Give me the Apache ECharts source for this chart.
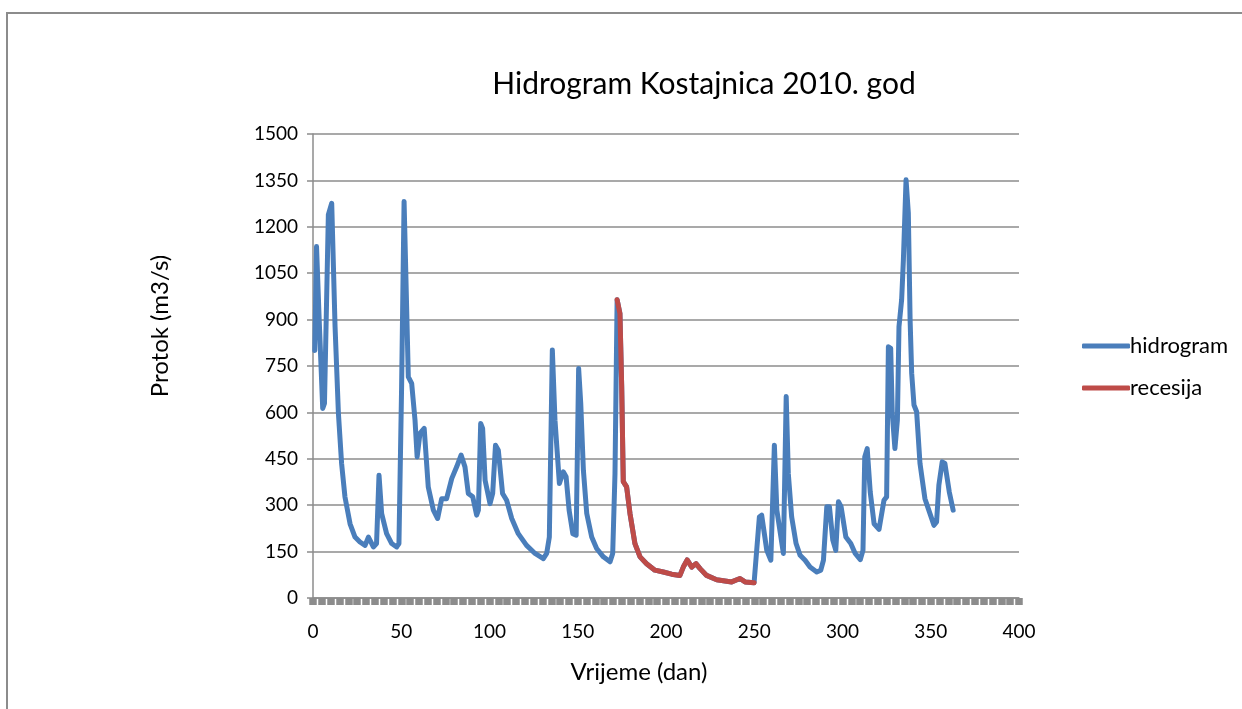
<!DOCTYPE html>
<html>
<head>
<meta charset="utf-8">
<title>Hidrogram Kostajnica 2010</title>
<script src="https://cdn.jsdelivr.net/npm/echarts@6/dist/echarts.min.js"></script>
<style>
  html, body { margin: 0; padding: 0; background: #fff; }
  #chart { width: 1242px; height: 709px; }
</style>
</head>
<body>
<div id="chart"></div>
<script>
// podaci ocitani sa grafa: [dan, protok m3/s]
var hidrogramA = [
    [1, 800], [2, 1136], [3.5, 900], [5.5, 613], [6.5, 629], [8.7, 1239], [10.6, 1276],
    [12.5, 877], [14.4, 597], [16.2, 435], [18.1, 327], [21, 240], [23.8, 197],
    [26.6, 181], [29.5, 170], [31.4, 197], [34.2, 165], [36, 176], [37.4, 397],
    [38.9, 273], [41.7, 208], [44.6, 176], [47.4, 165], [48.7, 176], [50.2, 683],
    [51.6, 1282], [52.7, 1276], [54, 715], [55.9, 694], [57.8, 575], [59, 456],
    [60.6, 532], [63, 548], [65.3, 359], [68.2, 284], [70.6, 257], [72.9, 321],
    [75.7, 321], [78.6, 386], [81.4, 424], [83.9, 462], [86.1, 424], [88, 338],
    [90.5, 327], [92.7, 268], [93.7, 284], [95, 564], [96.1, 548], [97.5, 381],
    [100.3, 305], [101.8, 338], [103.4, 494], [105, 478], [107.4, 338], [109.7, 316],
    [112.6, 257], [116.3, 208], [121, 170], [125.8, 144], [130.5, 127], [132.4, 144],
    [133.9, 197], [135.6, 802], [137.1, 575], [139.6, 370], [141.8, 408], [143.4, 392],
    [145.1, 284], [147.2, 208], [149.1, 203], [150.5, 742], [151.7, 629], [153.2, 413],
    [155.1, 273], [157.9, 197], [160.7, 160], [164.5, 133], [168.3, 117], [169.8, 144],
    [171.1, 402]
];

var recesija = [
    [172.3, 964], [173.9, 920], [174.9, 683], [175.8, 376], [177.7, 359], [179.6, 273],
    [182.4, 176], [185.3, 133], [189, 111], [193.7, 90], [198.5, 84], [203.2, 77],
    [207.9, 73], [209.8, 100], [212, 123], [214.6, 100], [217, 111], [219.3, 95],
    [223, 73], [228.7, 59], [237.2, 52], [241.9, 63], [244.8, 52], [249.9, 49]
];

var hidrogramB = [
    [252.9, 262], [254.2, 268], [257.1, 154], [259.4, 122], [261.4, 494], [262.8, 284],
    [266.5, 144], [268.1, 651], [269.3, 402], [271.2, 262], [273.7, 176], [276, 138],
    [278.8, 122], [281.6, 100], [285.4, 84], [287.7, 90], [289.2, 122], [291.1, 295],
    [292.6, 295], [294.5, 187], [296.2, 154], [297.7, 311], [299.2, 295], [301.9, 197],
    [304.7, 176], [307.2, 144], [310.1, 124], [311.6, 154], [312.6, 456], [314, 483],
    [315.7, 343], [317.9, 240], [320.7, 222], [323.5, 316], [325, 327], [326, 812],
    [327.3, 807], [328.2, 597], [329.7, 483], [331.1, 575], [332, 877], [333.5, 964],
    [334.5, 1093], [336, 1352], [337.3, 1244], [338.3, 899], [339.2, 726], [340.5, 624],
    [342, 602], [343.9, 435], [346.7, 321], [348.6, 289], [351.8, 235], [353.3, 246],
    [354.6, 365], [356.5, 440], [358, 435], [360.5, 343], [362.7, 284]
];

var hidrogram = hidrogramA.concat(recesija, hidrogramB);

var font = 'Lato, "Open Sans", sans-serif';

var myChart = echarts.init(document.getElementById('chart'));
var option = {
    backgroundColor: '#fff',
    animation: false,
    textStyle: { fontFamily: font, color: '#000' },
    graphic: [{
        type: 'rect',
        shape: { x: 7, y: 13, width: 1300, height: 800 },
        style: { fill: 'none', stroke: '#8c8c8c', lineWidth: 2 },
        silent: true
    }],
    title: {
        text: 'Hidrogram Kostajnica 2010. god',
        left: 699,
        top: 64,
        textAlign: 'center',
        textStyle: { fontFamily: font, fontSize: 30, fontWeight: 'normal', color: '#000' }
    },
    legend: {
        orient: 'vertical',
        left: 1077,
        top: 330,
        itemWidth: 48,
        itemHeight: 5,
        itemGap: 20,
        icon: 'roundRect',
        textStyle: { fontFamily: font, fontSize: 22, color: '#000', padding: [0, 0, 0, -5] },
        data: ['hidrogram', 'recesija']
    },
    grid: { left: 313, right: 223, top: 134, bottom: 111 },
    xAxis: {
        type: 'value',
        min: 0,
        max: 400,
        interval: 50,
        name: 'Vrijeme (dan)',
        nameLocation: 'middle',
        nameGap: 62,
        nameTextStyle: { fontFamily: font, fontSize: 24, color: '#000', padding: [0, 54, 0, 0] },
        axisLine: { show: true, lineStyle: { color: '#8c8c8c', width: 1.5 } },
        axisTick: { show: true, length: 7, lineStyle: { color: '#8c8c8c', width: 7.5 } },
        minorTick: { show: true, splitNumber: 10, length: 7, lineStyle: { color: '#8c8c8c', width: 7.5 } },
        axisLabel: { fontFamily: font, fontSize: 19, color: '#000', margin: 24 },
        splitLine: { show: false }
    },
    yAxis: {
        type: 'value',
        min: 0,
        max: 1500,
        interval: 150,
        name: 'Protok (m3/s)',
        nameLocation: 'middle',
        nameGap: 141,
        nameTextStyle: { fontFamily: font, fontSize: 24, color: '#000', padding: [0, 0, 0, 80] },
        axisLine: { show: true, lineStyle: { color: '#8c8c8c', width: 1.5 } },
        axisTick: { show: true, length: 6, lineStyle: { color: '#8c8c8c', width: 1.5 } },
        axisLabel: {
            fontFamily: font, fontSize: 19, color: '#000', margin: 15,
            formatter: function (v) { return String(v); }
        },
        splitLine: { show: true, lineStyle: { color: '#8c8c8c', width: 1.5 } }
    },
    series: [
        {
            name: 'hidrogram',
            type: 'line',
            data: hidrogram,
            showSymbol: false,
            symbol: 'none',
            color: '#4a7ebb',
            lineStyle: { color: '#4a7ebb', width: 5, cap: 'round', join: 'round' },
            z: 2
        },
        {
            name: 'recesija',
            type: 'line',
            data: recesija,
            showSymbol: false,
            symbol: 'none',
            color: '#be4b48',
            lineStyle: { color: '#be4b48', width: 5, cap: 'round', join: 'round' },
            z: 3
        }
    ]
};
myChart.setOption(option);
</script>
</body>
</html>
